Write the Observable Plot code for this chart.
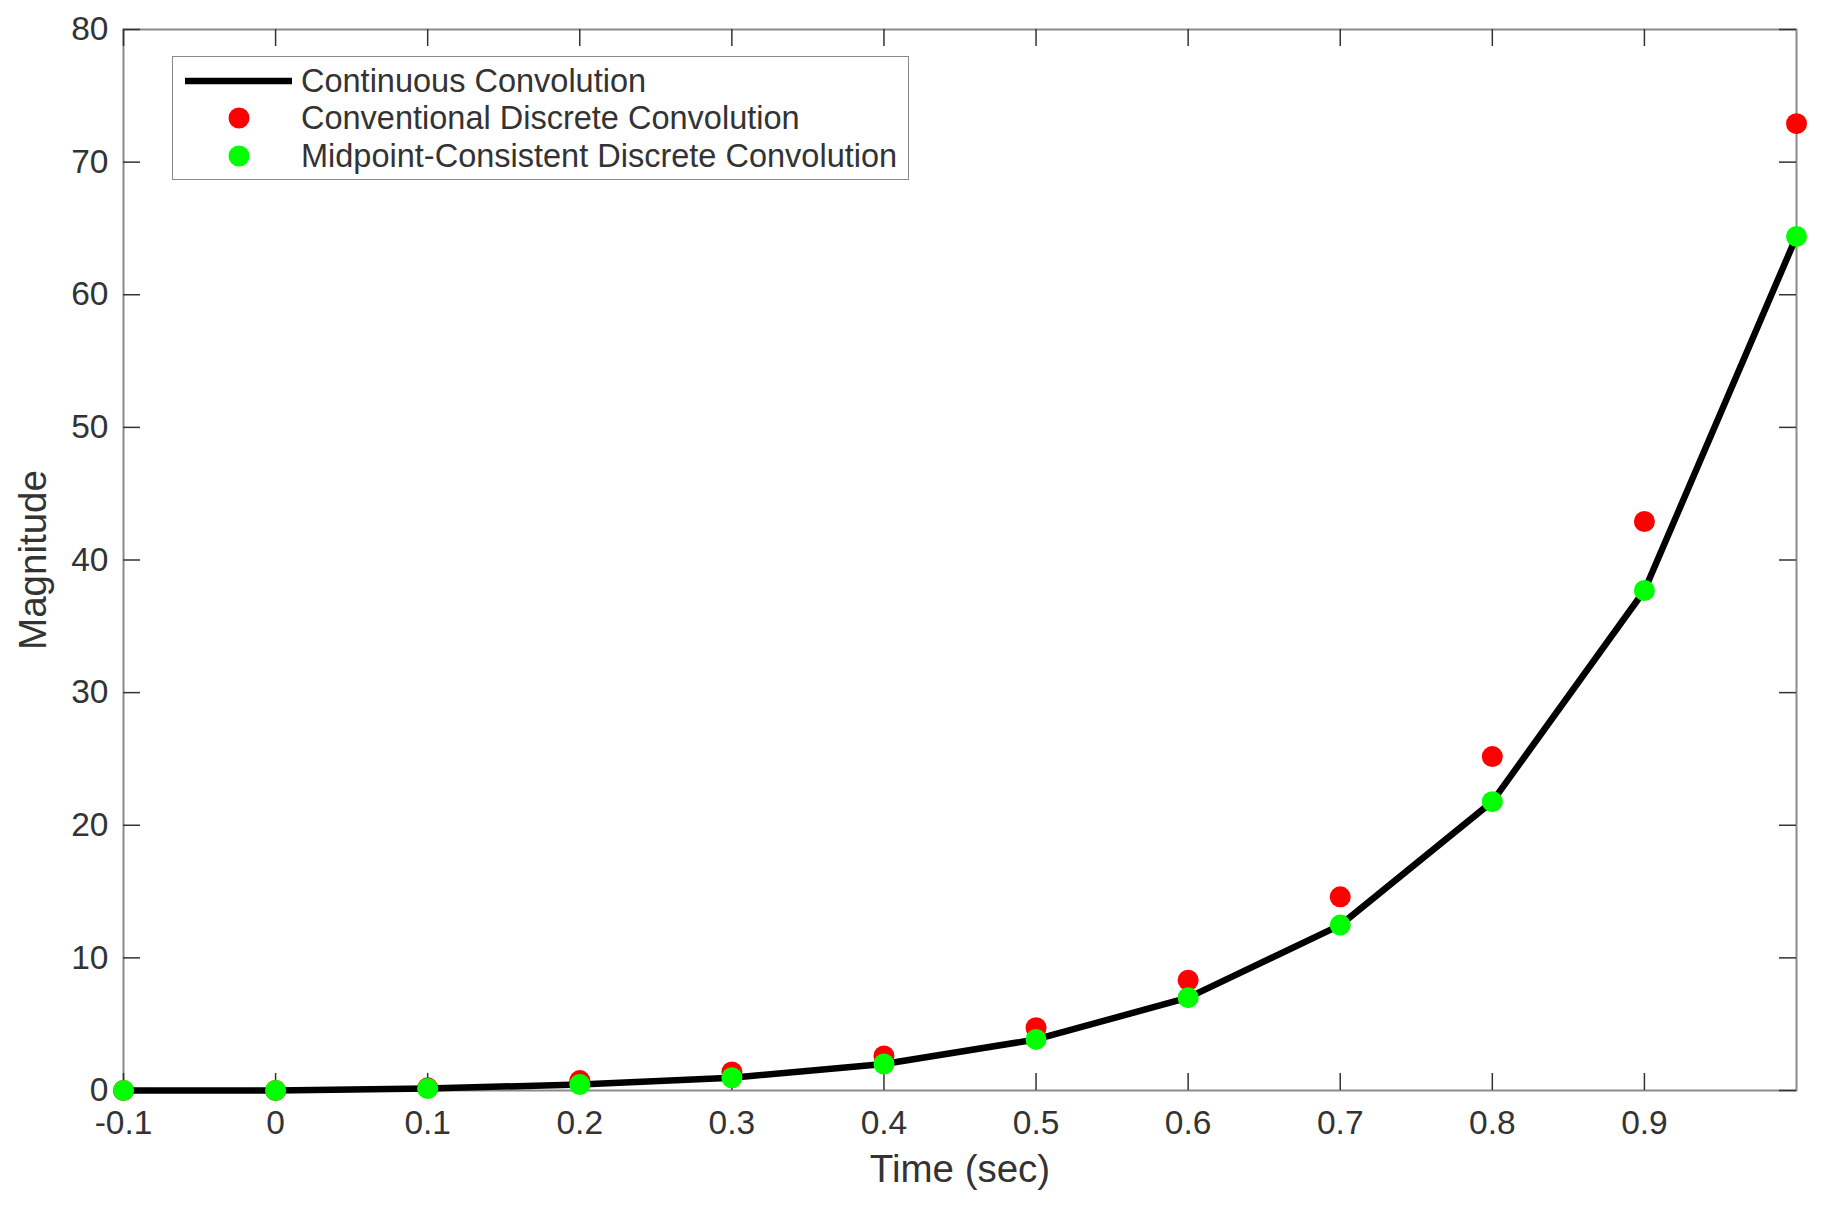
<!DOCTYPE html>
<html>
<head>
<meta charset="utf-8">
<script src="https://cdn.jsdelivr.net/npm/d3@7"></script>
<script src="https://cdn.jsdelivr.net/npm/@observablehq/plot@0.6"></script>
<style>
  html, body { margin: 0; padding: 0; background: #fff; }
  #wrap { position: relative; width: 1821px; height: 1207px; font-family: "Liberation Sans", Arial, sans-serif; }
  #legend {
    position: absolute; left: 172px; top: 56px; width: 735px; height: 122px;
    border: 1.5px solid #8a8a8a; background: #fff; box-sizing: content-box;
  }
  #legend .row { position: absolute; left: 0; height: 38px; width: 100%; }
  #legend .lab { position: absolute; left: 128px; top: 0; line-height: 38px; font-size: 32.5px; color: #333; white-space: nowrap; }
  #legend svg { position: absolute; left: 0; top: 0; }
</style>
</head>
<body>
<div id="wrap"></div>
<script>
const timeValues = [-0.1, 0, 0.1, 0.2, 0.3, 0.4, 0.5, 0.6, 0.7, 0.8, 0.9, 1.0];
const continuousValues = [0, 0, 0.15, 0.45, 0.96, 2.0, 3.85, 7.0, 12.47, 21.78, 37.7, 64.4];
const conventionalValues = [0, 0, 0.2, 0.75, 1.4, 2.6, 4.73, 8.31, 14.6, 25.18, 42.9, 72.9];
const midpointValues = [0, 0, 0.15, 0.45, 0.96, 2.0, 3.85, 7.0, 12.47, 21.78, 37.7, 64.4];
const xTicks = [-0.1, 0, 0.1, 0.2, 0.3, 0.4, 0.5, 0.6, 0.7, 0.8, 0.9];
const yTicks = [0, 10, 20, 30, 40, 50, 60, 70, 80];
const seriesNames = ["Continuous Convolution", "Conventional Discrete Convolution", "Midpoint-Consistent Discrete Convolution"];

const cont = timeValues.map((t, i) => ({t, v: continuousValues[i]}));
const conv = timeValues.map((t, i) => ({t, v: conventionalValues[i]}));
const mid = timeValues.map((t, i) => ({t, v: midpointValues[i]}));

const W = 1821, H = 1207;
const mL = 123, mR = 25, mT = 29, mB = 117;
const innerW = W - mL - mR, innerH = H - mT - mB;
const tickLen = 17;
const tickColor = "#333";

const chart = Plot.plot({
  width: W,
  height: H,
  marginLeft: mL,
  marginRight: mR,
  marginTop: mT,
  marginBottom: mB,
  style: {fontFamily: '"Liberation Sans", Arial, sans-serif', color: "#333", background: "#fff", overflow: "visible"},
  x: {domain: [-0.1, 1.0]},
  y: {domain: [0, 80]},
  marks: [
    Plot.frame({stroke: "#8a8a8a", strokeWidth: 2}),
    Plot.ruleX(xTicks, {stroke: tickColor, strokeWidth: 1.5, insetTop: innerH - tickLen}),
    Plot.ruleX(xTicks, {stroke: tickColor, strokeWidth: 1.5, insetBottom: innerH - tickLen}),
    Plot.ruleY(yTicks, {stroke: tickColor, strokeWidth: 1.5, insetRight: innerW - tickLen}),
    Plot.ruleY(yTicks, {stroke: tickColor, strokeWidth: 1.5, insetLeft: innerW - tickLen}),
    Plot.axisX({ticks: xTicks, tickSize: 0, tickPadding: 20, fontSize: 33.5, tickFormat: d => String(+d.toFixed(1)),
      label: "Time (sec)", labelAnchor: "center", labelOffset: 91, labelArrow: "none"}),
    Plot.axisY({ticks: yTicks, tickSize: 0, tickPadding: 15, fontSize: 33.5, tickFormat: d => String(d),
      label: "Magnitude", labelAnchor: "center", labelOffset: 105, labelArrow: "none"}),
    Plot.line(cont, {x: "t", y: "v", stroke: "#000", strokeWidth: 6.5}),
    Plot.dot(conv, {x: "t", y: "v", r: 10.5, fill: "#ff0000", stroke: "none"}),
    Plot.dot(mid, {x: "t", y: "v", r: 10.5, fill: "#00ff00", stroke: "none"})
  ]
});

d3.select(chart).selectAll("g[aria-label='x-axis label'] text, g[aria-label='y-axis label'] text")
  .style("font-size", "38.5px");

const wrap = document.getElementById("wrap");
wrap.appendChild(chart);

const legend = document.createElement("div");
legend.id = "legend";
const rowsTop = [5, 42, 80];
seriesNames.forEach((name, i) => {
  const row = document.createElement("div");
  row.className = "row";
  row.style.top = rowsTop[i] + "px";
  const sw = d3.create("svg").attr("width", 125).attr("height", 38);
  if (i === 0) {
    sw.append("line").attr("x1", 12).attr("x2", 119).attr("y1", 19).attr("y2", 19)
      .attr("stroke", "#000").attr("stroke-width", 6.5);
  } else {
    sw.append("circle").attr("cx", 66).attr("cy", 19).attr("r", 10.5)
      .attr("fill", i === 1 ? "#ff0000" : "#00ff00");
  }
  row.appendChild(sw.node());
  const lab = document.createElement("div");
  lab.className = "lab";
  lab.textContent = name;
  row.appendChild(lab);
  legend.appendChild(row);
});
wrap.appendChild(legend);
</script>
</body>
</html>
